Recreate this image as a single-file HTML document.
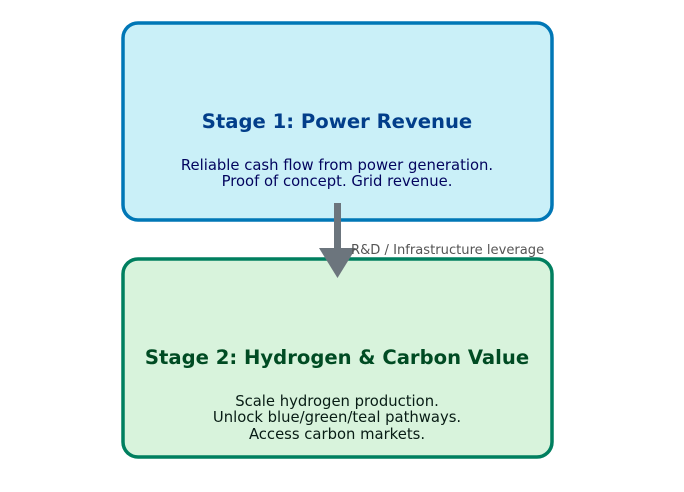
<!DOCTYPE html>
<html><head><meta charset="utf-8"><style>
html,body{margin:0;padding:0;background:#fff;}
svg{display:block;font-family:"DejaVu Sans","Liberation Sans",sans-serif;}
</style></head><body>
<svg width="684" height="492" viewBox="0 0 684 492" xmlns="http://www.w3.org/2000/svg">
<rect x="123" y="23" width="429" height="197" rx="15" fill="#caf0f8" stroke="#0077b6" stroke-width="3.5"/>
<rect x="123" y="259" width="429" height="198" rx="15" fill="#d8f3dc" stroke="#007f5f" stroke-width="3.5"/>
<text x="337" y="128" text-anchor="middle" font-size="19.6" font-weight="bold" fill="#023e8a">Stage 1: Power Revenue</text>
<text x="337" y="170" text-anchor="middle" font-size="14.8" fill="#03045e">Reliable cash flow from power generation.</text>
<text x="337" y="186" text-anchor="middle" font-size="14.8" fill="#03045e">Proof of concept. Grid revenue.</text>
<text x="337" y="364" text-anchor="middle" font-size="19.6" font-weight="bold" fill="#004b23">Stage 2: Hydrogen &amp; Carbon Value</text>
<text x="337" y="406" text-anchor="middle" font-size="14.8" fill="#081c15">Scale hydrogen production.</text>
<text x="337" y="422" text-anchor="middle" font-size="14.8" fill="#081c15">Unlock blue/green/teal pathways.</text>
<text x="337" y="439" text-anchor="middle" font-size="14.8" fill="#081c15">Access carbon markets.</text>
<rect x="334" y="203" width="7" height="47" fill="#6c757d"/>
<polygon points="319,248 356,248 337.5,278" fill="#6c757d"/>
<text x="351" y="254" font-size="13.1" fill="#555555">R&amp;D / Infrastructure leverage</text>
</svg>
</body></html>
